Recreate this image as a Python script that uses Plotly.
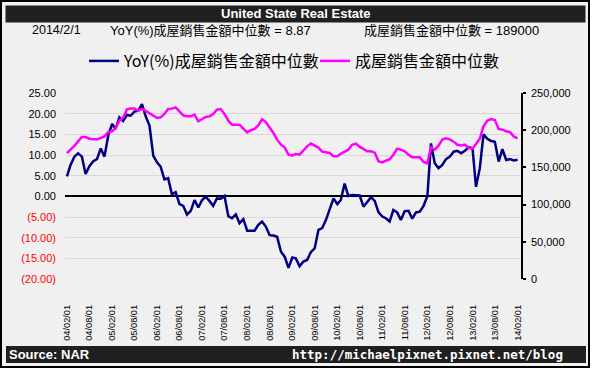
import plotly.graph_objects as go
import pandas as pd

# ---------------- data ----------------
months = pd.date_range("2004-02-01", "2014-02-01", freq="MS")

yoy = [
    4.8, 7.6, 9.6, 10.4, 9.6, 5.4, 7.3, 8.5, 9.0, 11.6,
    9.6, 14.8, 17.5, 16.3, 19.1, 18.2, 19.7, 19.5, 20.5, 20.7,
    22.3, 19.3, 17.1, 9.8, 8.2, 7.2, 4.1, 4.4, 0.5, 1.0,
    -1.9, -2.3, -4.4, -3.5, -0.9, -2.7, -0.9, -0.1, -1.1, -2.3,
    -0.5, -0.6, 0.1, -4.8, -5.3, -4.4, -6.5, -5.5, -8.3, -8.3,
    -8.3, -6.9, -6.1, -7.3, -9.4, -9.5, -9.8, -13.4, -14.6, -17.3,
    -14.8, -15.0, -16.9, -15.8, -15.4, -13.5, -12.6, -8.1, -7.7, -5.7,
    -3.3, -0.5, -1.9, -0.9, 3.1, 0.1, 0.3, 0.3, 0.2, -2.5,
    -1.3, -0.2, -1.1, -3.9, -4.9, -5.3, -6.1, -3.3, -3.9, -5.7,
    -3.6, -3.5, -5.4, -3.9, -3.7, -2.3, 0.0, 12.8, 8.0, 6.8,
    7.6, 9.0, 9.6, 10.8, 11.0, 10.4, 11.0, 11.9, 11.6, 2.3,
    6.8, 15.0, 13.9, 13.4, 13.2, 8.4, 11.4, 8.8, 9.0, 8.7,
    8.87,
]

price = [
    169300, 173800, 179000, 185000, 190800, 190800, 188600, 187700, 187700, 189500,
    191700, 197600, 198500, 203000, 212800, 216400, 228000, 229000, 229000, 226000,
    228500, 226000, 223000, 220000, 216400, 217300, 221800, 228500, 229000, 230700,
    226000, 220000, 218600, 218600, 220900, 211900, 215000, 217700, 218600, 221800,
    227600, 228500, 221800, 212800, 207400, 207400, 207400, 202000, 197000, 200000,
    201600, 206500, 214600, 211000, 204300, 196200, 187300, 180500, 177000, 167100,
    166200, 168000, 167100, 172500, 178300, 182000, 179200, 176600, 171200, 170000,
    169300, 164900, 164900, 168400, 171600, 173800, 180500, 182000, 177900, 174700,
    171600, 171600, 169800, 158100, 156800, 159000, 160800, 167100, 175200, 173800,
    171600, 167100, 163500, 163500, 163500, 157200, 155500, 177000, 173800, 179200,
    187300, 189000, 187700, 184600, 180500, 179600, 180500, 176000, 175200, 181400,
    188600, 205200, 212800, 215000, 213700, 201600, 200700, 198500, 197600, 191700,
    189000,
]

x_tick_labels = ["04/02/01", "04/08/01", "05/02/01", "05/08/01", "06/02/01", "06/08/01",
                 "07/02/01", "07/08/01", "08/02/01", "08/08/01", "09/02/01", "09/08/01",
                 "10/02/01", "10/08/01", "11/02/01", "11/08/01", "12/02/01", "12/08/01",
                 "13/02/01", "13/08/01", "14/02/01"]
x_tick_vals = pd.date_range("2004-02-01", "2014-02-01", freq="6MS")

left_vals = [25, 20, 15, 10, 5, 0, -5, -10, -15, -20]
left_labels = ["25.00", "20.00", "15.00", "10.00", "5.00", "0.00",
               "(5.00)", "(10.00)", "(15.00)", "(20.00)"]
right_vals = [0, 50000, 100000, 150000, 200000, 250000]

name_yoy = "YoY(%)成屋銷售金額中位數"
name_price = "成屋銷售金額中位數"

# ---------------- layout helpers ----------------
W, H = 594, 371
L, R, T, B = 65, 73, 93, 92
PW, PH = W - L - R, H - T - B


def px(x):
    return (x - L) / PW


def py(y):
    return (H - B - y) / PH


left_text = [t if v >= 0 else f'<span style="color:#ff0000">{t}</span>'
             for v, t in zip(left_vals, left_labels)]

fig = go.Figure()
fig.add_trace(go.Scatter(x=months, y=yoy, name=name_yoy, mode="lines",
                         line=dict(color="#000080", width=2.5), yaxis="y",
                         legend="legend"))
fig.add_trace(go.Scatter(x=months, y=price, name=name_price, mode="lines",
                         line=dict(color="#ff00ff", width=2.5), yaxis="y2",
                         legend="legend2"))

base_font = "Liberation Sans, Arial, Noto Sans CJK TC"
legend_font = dict(family="Noto Sans CJK TC", size=16, color="black")

fig.update_layout(
    width=W, height=H,
    margin=dict(l=L, r=R, t=T, b=B, pad=0),
    paper_bgcolor="white",
    plot_bgcolor="rgba(0,0,0,0)",
    font=dict(family=base_font, size=11, color="black"),
    showlegend=True,
    legend=dict(orientation="h", x=px(84), xanchor="left", y=py(61), yanchor="middle",
                bgcolor="rgba(0,0,0,0)", borderwidth=0, font=legend_font),
    legend2=dict(orientation="h", x=px(315), xanchor="left", y=py(61), yanchor="middle",
                 bgcolor="rgba(0,0,0,0)", borderwidth=0, font=legend_font),
    xaxis=dict(type="date", range=["2004-01-16", "2014-03-01"],
               tickmode="array", tickvals=x_tick_vals, ticktext=x_tick_labels,
               tickangle=-90, tickfont=dict(size=9.25, family=base_font),
               showgrid=False, showline=False, zeroline=False, ticks="",
               ticklabelstandoff=23),
    yaxis=dict(range=[-20, 25], tickmode="array", tickvals=left_vals, ticktext=left_text,
               showgrid=True, gridcolor="#dcd6d6", gridwidth=1,
               zeroline=True, zerolinecolor="black", zerolinewidth=1.5,
               ticks="", showline=False, ticklabelstandoff=8,
               tickfont=dict(size=11, family=base_font)),
    yaxis2=dict(range=[0, 250000], overlaying="y", side="right",
                tickmode="array", tickvals=right_vals, tickformat=",",
                showline=True, linecolor="black", linewidth=1.5,
                ticks="outside", ticklen=3, tickwidth=1.5, tickcolor="black",
                showgrid=False, zeroline=False, ticklabelstandoff=3,
                tickfont=dict(size=11, family=base_font)),
)

shapes = [
    dict(type="rect", xref="paper", yref="paper", layer="below",
         x0=px(1), x1=px(589), y0=py(1), y1=py(367),
         fillcolor="#f0f0f0", line=dict(color="black", width=2)),
    dict(type="rect", xref="paper", yref="paper", layer="below",
         x0=px(5.5), x1=px(585.5), y0=py(5.5), y1=py(22.5),
         fillcolor="#202020", line=dict(width=0)),
    dict(type="rect", xref="paper", yref="paper", layer="below",
         x0=px(6), x1=px(586), y0=py(346), y1=py(363),
         fillcolor="#202020", line=dict(width=0)),
]
fig.update_layout(shapes=shapes)

annotations = [
    dict(text="<b>United State Real Estate</b>", x=px(296), y=py(14),
         xanchor="center", yanchor="middle",
         font=dict(family="Liberation Sans", size=13, color="white")),
    dict(text="2014/2/1", x=px(30), y=py(30), xanchor="left", yanchor="middle",
         font=dict(family=base_font, size=12.5, color="black")),
    dict(text=f"{name_yoy} = {yoy[-1]:.2f}", x=px(108), y=py(30), xanchor="left", yanchor="middle",
         font=dict(family=base_font, size=13, color="black")),
    dict(text=f"{name_price} = {price[-1]}", x=px(362), y=py(30), xanchor="left", yanchor="middle",
         font=dict(family=base_font, size=13, color="black")),
    dict(text="<b>Source: NAR</b>", x=px(7), y=py(354.5), xanchor="left", yanchor="middle",
         font=dict(family="Liberation Sans", size=13, color="white")),
    dict(text="<b>http://michaelpixnet.pixnet.net/blog</b>", x=px(565), y=py(354.5),
         xanchor="right", yanchor="middle",
         font=dict(family="DejaVu Sans Mono", size=12.5, color="white")),
]
for a in annotations:
    a.update(xref="paper", yref="paper", showarrow=False)
fig.update_layout(annotations=annotations)

fig.write_html("out.html",
               config={"displayModeBar": False},
               post_script="document.body.style.margin='0';document.body.style.overflow='hidden';")
